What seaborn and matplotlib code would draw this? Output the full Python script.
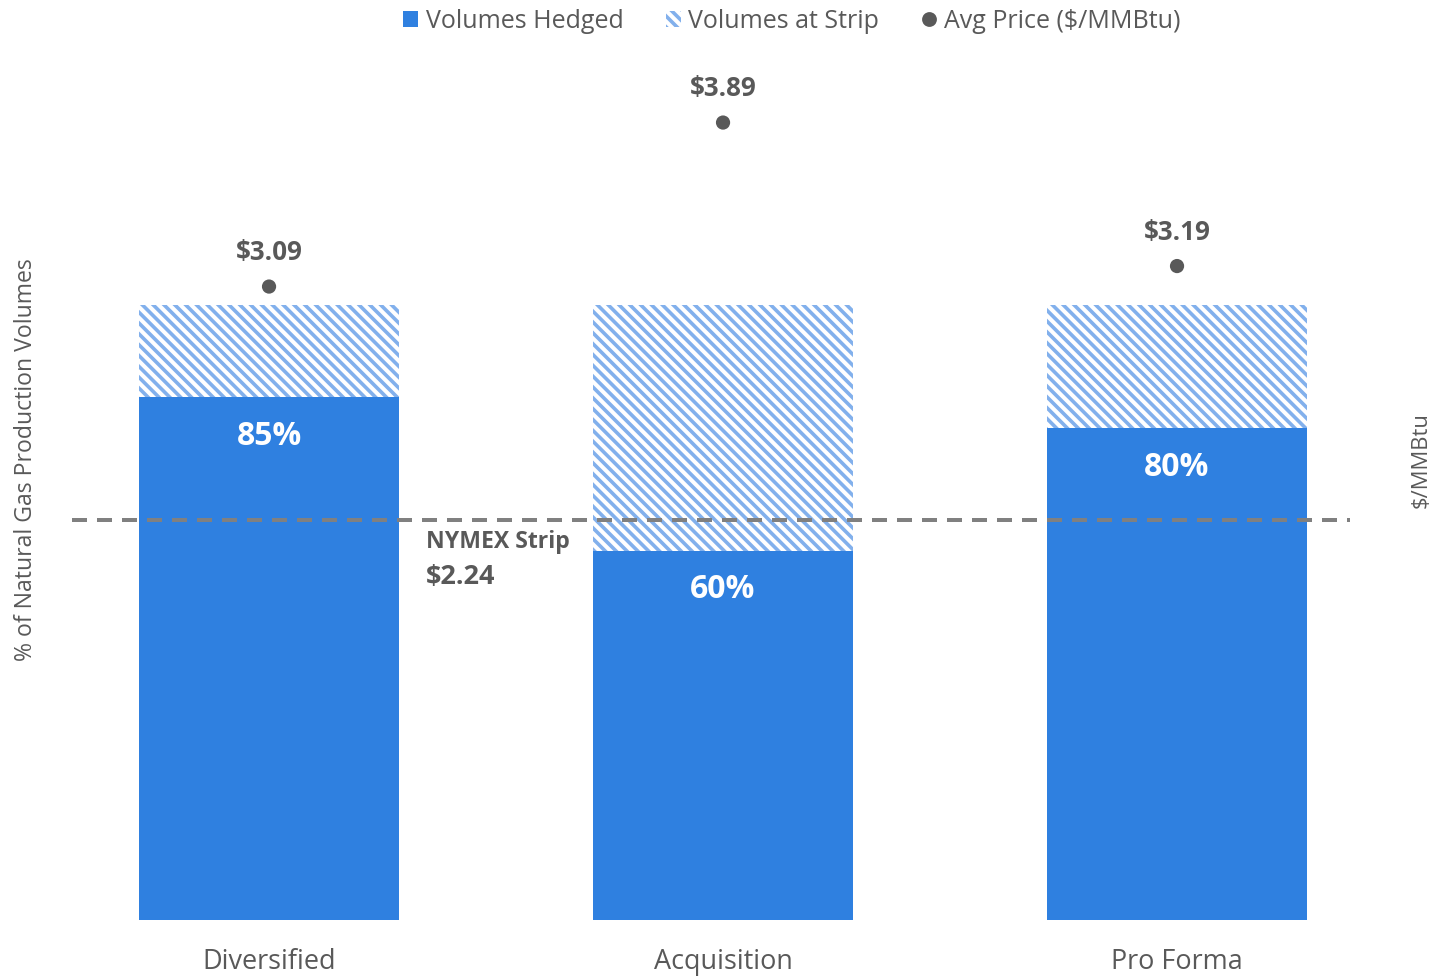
import matplotlib
matplotlib.use("Agg")
import matplotlib.pyplot as plt
import seaborn as sns
import pandas as pd
import numpy as np
from matplotlib.patches import Patch
from matplotlib.lines import Line2D

categories = ["Diversified", "Acquisition", "Pro Forma"]
hedged = [85, 60, 80]
strip = [15, 40, 20]
prices = [3.09, 3.89, 3.19]
nymex_price = 2.24

BLUE = "#2F80E0"
HATCH_BLUE = "#82B0EC"
GRAY = "#595959"
DASH_GRAY = "#808080"
HATCH = "\\\\\\\\"

sns.set_theme(style="white")
plt.rcParams["font.family"] = ["Open Sans", "DejaVu Sans"]
plt.rcParams["hatch.linewidth"] = 2.0

DPI = 130
W, H = 1433, 977
def pt(px):
    return px * 72.0 / DPI

fig = plt.figure(figsize=(W / DPI, H / DPI), dpi=DPI)
left, right, bottom, top = 72, 1350, 920, 59
ax = fig.add_axes([left / W, 1 - bottom / H, (right - left) / W, (bottom - top) / H])

df = pd.DataFrame({"cat": categories, "hedged": hedged,
                   "total": [h + s for h, s in zip(hedged, strip)]})

sns.barplot(data=df, x="cat", y="total", ax=ax, color="white", saturation=1,
            width=0.573, linewidth=0)
n = len(categories)
for p in ax.patches[:n]:
    p.set_hatch(HATCH)
    p.set_edgecolor(HATCH_BLUE)
    p.set_facecolor("white")
    p.set_linewidth(0)
sns.barplot(data=df, x="cat", y="hedged", ax=ax, color=BLUE, saturation=1,
            width=0.573, linewidth=0)

ax.set_xlim(-0.434, 2.381)
ymax = (bottom - top) / 6.15
ax.set_ylim(0, ymax)
ax.set_yticks([])
ax.set_xlabel("")
ax.set_ylabel("")
for s in ax.spines.values():
    s.set_visible(False)
ax.tick_params(axis="x", length=0, pad=pt(28), labelsize=pt(27), labelcolor=GRAY)

# pct labels
for i, h in enumerate(hedged):
    ax.annotate(f"{h}%", (i, h), xytext=(0, -39), textcoords="offset pixels",
                ha="center", va="center", color="white", fontsize=pt(32),
                fontweight="bold")

# NYMEX dashed line (drawn at fixed visual level)
NYMEX_LEVEL = 65
ax.axhline(NYMEX_LEVEL, color=DASH_GRAY, lw=pt(4), dashes=(3.75, 2.5), zorder=5)
ax.annotate("NYMEX Strip", (0, NYMEX_LEVEL), xycoords=("axes fraction", "data"),
            xytext=(426 - left, -22), textcoords="offset pixels",
            ha="left", va="center", color=GRAY, fontsize=pt(23), fontweight="bold")
ax.annotate(f"${nymex_price:.2f}", (0, NYMEX_LEVEL), xycoords=("axes fraction", "data"),
            xytext=(426 - left, -57), textcoords="offset pixels",
            ha="left", va="center", color=GRAY, fontsize=pt(27), fontweight="bold")

# secondary axis
ax2 = ax.twinx()
ax2.set_ylim(0, (bottom - top) / 205.0)
sns.scatterplot(x=np.arange(n), y=prices, ax=ax2, color=GRAY, s=62,
                edgecolor="none", legend=False, zorder=6)
for i, pr in enumerate(prices):
    ax2.annotate(f"${pr:.2f}", (i, pr), xytext=(0, 34), textcoords="offset pixels",
                 ha="center", va="center", color=GRAY, fontsize=pt(26),
                 fontweight="bold")
ax2.set_yticks([])
for s in ax2.spines.values():
    s.set_visible(False)

fig.text(26 / W, 1 - 460 / H, "% of Natural Gas Production Volumes", rotation=90,
         ha="center", va="center", color=GRAY, fontsize=pt(23))
fig.text(1421 / W, 1 - 460 / H, "$/MMBtu", rotation=90,
         ha="center", va="center", color=GRAY, fontsize=pt(22))

handles = [
    Patch(facecolor=BLUE, edgecolor="none"),
    Patch(facecolor="white", edgecolor=HATCH_BLUE, hatch=HATCH, linewidth=0),
    Line2D([], [], marker="o", color=GRAY, linestyle="none", markersize=pt(13)),
]
labels = ["Volumes Hedged", "Volumes at Strip", "Avg Price ($/MMBtu)"]
leg = fig.legend(handles, labels, loc="center", bbox_to_anchor=(792 / W, 1 - 21 / H),
                 ncol=3, frameon=False, fontsize=pt(25), handlelength=0.6,
                 handleheight=0.6, handletextpad=0.3, columnspacing=1.7)
for t in leg.get_texts():
    t.set_color(GRAY)

fig.savefig("out.png", dpi=DPI)
